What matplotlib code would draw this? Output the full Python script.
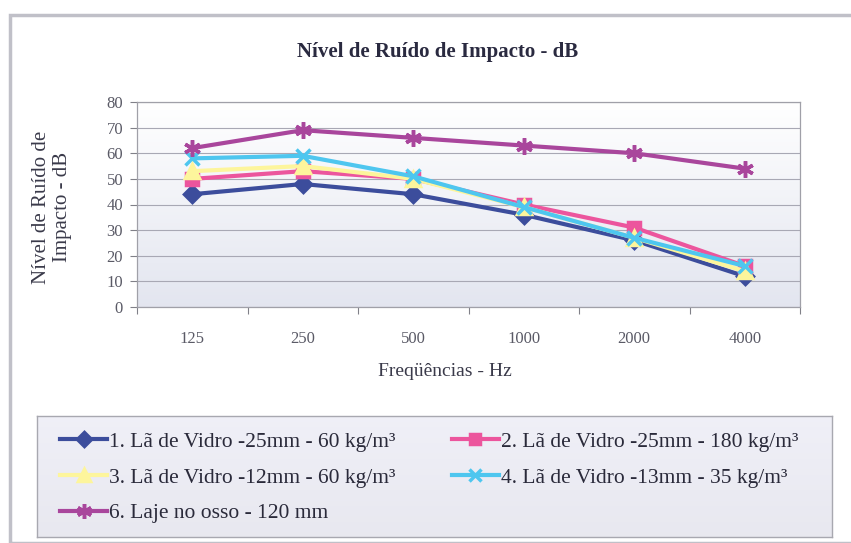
import numpy as np
import matplotlib.pyplot as plt
from matplotlib.lines import Line2D
from matplotlib.patches import Rectangle

plt.rcParams['font.family'] = ['Liberation Serif', 'DejaVu Serif']

# Impact noise level (dB) per frequency band
frequencias = ['125', '250', '500', '1000', '2000', '4000']
la_vidro_25_60 = [44, 48, 44, 36, 26, 12]
la_vidro_25_180 = [50, 53, 50, 40, 31, 16]
la_vidro_12_60 = [53, 55, 50, 39, 27, 14]
la_vidro_13_35 = [58, 59, 51, 39, 27, 16]
laje_osso = [62, 69, 66, 63, 60, 54]

series = [
    ('1. Lã de Vidro -25mm - 60 kg/m³', la_vidro_25_60, '#3c4d9c', 'D', 8),
    ('2. Lã de Vidro -25mm - 180 kg/m³', la_vidro_25_180, '#ec559d', 's', 8),
    ('3. Lã de Vidro -12mm - 60 kg/m³', la_vidro_12_60, '#fdf59c', '^', 10),
    ('4. Lã de Vidro -13mm - 35 kg/m³', la_vidro_13_35, '#4ec6ef', 'x', 10),
    ('6. Laje no osso - 120 mm', laje_osso, '#a9469c', (6, 2, 0), 12),
]

W, H = 851, 543
fig = plt.figure(figsize=(W / 100, H / 100), dpi=100)
fig.patch.set_facecolor('white')

def px(x0, y0, x1, y1):
    return [x0 / W, 1 - y1 / H, (x1 - x0) / W, (y1 - y0) / H]

# outer chart border
fig.patches.append(Rectangle((10 / W, 0), 1.2, 1 - 15 / H, transform=fig.transFigure,
                             fill=False, edgecolor='#c0c0c8', lw=2.5))

grad = np.linspace(0, 1, 256).reshape(-1, 1)
top = np.array([1.0, 1.0, 1.0])
bot = np.array([0.89, 0.9, 0.94])
grad_img = top + (bot - top) * grad[..., None]

ax = fig.add_axes(px(137, 102, 800, 307))
x = np.arange(len(frequencias))
ax.imshow(grad_img, extent=[-0.5, 5.5, 0, 80], aspect='auto', zorder=0)
for lab, vals, col, mk, ms in series:
    ax.plot(x, vals, color=col, lw=3, marker=mk, ms=ms, mew=2.5,
            mec=col, mfc=col, zorder=3)

ax.set_xlim(-0.5, 5.5)
ax.set_ylim(0, 80)
ax.set_yticks(range(0, 81, 10))
ax.grid(axis='y', color='#a8a8b4', lw=0.8, zorder=1)
ax.set_axisbelow(True)
ax.set_xticks(np.arange(-0.5, 6, 1))
ax.set_xticklabels([])
ax.set_xticks(x, minor=True)
ax.set_xticklabels(frequencias, minor=True)
ax.tick_params(axis='x', which='minor', length=0, pad=17, labelsize=12, labelcolor='#5a5a66')
ax.tick_params(axis='x', which='major', length=5, color='#808088', direction='out')
ax.tick_params(axis='y', length=5, color='#808088', labelsize=12, labelcolor='#5a5a66', pad=5)
for s in ax.spines.values():
    s.set_color('#a0a0a8')
    s.set_linewidth(0.9)

fig.text(438 / W, 1 - 52 / H, 'Nível de Ruído de Impacto - dB', ha='center', va='center',
         fontsize=15, fontweight='bold', color='#2a2a40')
fig.text(52 / W, 1 - 207 / H, 'Nível de Ruído de\nImpacto - dB', ha='center', va='center',
         rotation=90, fontsize=15, color='#3a3a4a', linespacing=1.1)
fig.text(445 / W, 1 - 371 / H, 'Freqüências - Hz', ha='center', va='center',
         fontsize=14, color='#3a3a4a')

# legend box with soft fill
lax = fig.add_axes(px(37, 416, 832, 537))
lax.imshow(np.array([0.94, 0.94, 0.97]) - grad[..., None] * 0.03,
           extent=[0, 1, 0, 1], aspect='auto')
lax.set_xticks([])
lax.set_yticks([])
for s in lax.spines.values():
    s.set_color('#a8a8b0')
    s.set_linewidth(1.0)

handles = {}
for lab, vals, col, mk, ms in series:
    handles[lab] = Line2D([], [], color=col, lw=3, marker=mk, ms=ms * 0.9, mew=2.5, mec=col, mfc=col)
order = [series[0][0], series[2][0], series[4][0], series[1][0], series[3][0]]
lax.legend([handles[k] for k in order], order, loc='upper left', bbox_to_anchor=(0.018, 0.94),
           ncol=2, frameon=False, fontsize=15.5, handlelength=2.2, handletextpad=0.1,
           columnspacing=2.6, labelspacing=0.72, labelcolor='#2a2a3a', borderaxespad=0)

fig.savefig('out.png', dpi=100)
